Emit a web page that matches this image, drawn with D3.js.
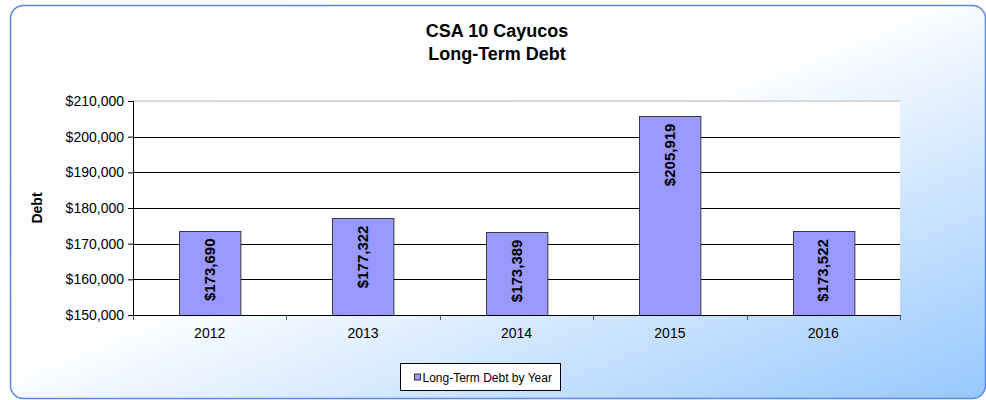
<!DOCTYPE html>
<html>
<head>
<meta charset="utf-8">
<script src="https://cdn.jsdelivr.net/npm/d3@7"></script>
<style>
  body { margin: 0; background: #fff; }
  svg text { font-family: Arial, "Liberation Sans", sans-serif; }
</style>
</head>
<body>
<div class="chart-container"></div>
<script>
// Data
const years = ["2012", "2013", "2014", "2015", "2016"];
const debtValues = [173690, 177322, 173389, 205919, 173522];
const yTicks = [150000, 160000, 170000, 180000, 190000, 200000, 210000];
const titleLines = ["CSA 10 Cayucos", "Long-Term Debt"];
const seriesName = "Long-Term Debt by Year";

document.addEventListener("DOMContentLoaded", function () {
    const width = 986;
    const height = 400;
    const margin = { top: 101, right: 86, bottom: 85, left: 133 };
    const plotW = width - margin.left - margin.right;
    const plotH = height - margin.top - margin.bottom;

    const svg = d3.select(".chart-container")
        .append("svg")
        .attr("width", width)
        .attr("height", height);

    // background gradient
    const defs = svg.append("defs");
    const grad = defs.append("linearGradient")
        .attr("id", "bg-grad")
        .attr("x1", 0).attr("y1", 0)
        .attr("x2", 1).attr("y2", 1);
    grad.append("stop").attr("offset", "0%").attr("stop-color", "#ffffff");
    grad.append("stop").attr("offset", "48%").attr("stop-color", "#fbfdff");
    grad.append("stop").attr("offset", "100%").attr("stop-color", "#96c8fe");

    svg.append("rect")
        .attr("x", 10.5).attr("y", 5.5)
        .attr("width", 975).attr("height", 393)
        .attr("rx", 13)
        .attr("fill", "url(#bg-grad)")
        .attr("stroke", "#5a86f0")
        .attr("stroke-width", 1.5);

    // title
    svg.append("g")
        .selectAll("text")
        .data(titleLines)
        .enter()
        .append("text")
        .attr("x", 497)
        .attr("y", (d, i) => 37 + i * 23)
        .attr("text-anchor", "middle")
        .attr("font-size", 18)
        .attr("font-weight", "bold")
        .text(d => d);

    const x = d3.scaleBand()
        .domain(years)
        .range([0, plotW])
        .paddingInner(0.6)
        .paddingOuter(0.3);

    const y = d3.scaleLinear()
        .domain([150000, 210000])
        .range([plotH, 0]);

    const plot = svg.append("g")
        .attr("transform", `translate(${margin.left},${margin.top})`);

    plot.append("rect")
        .attr("width", plotW)
        .attr("height", plotH)
        .attr("fill", "#ffffff");

    // top border of plot area
    plot.append("line")
        .attr("x1", 0).attr("x2", plotW)
        .attr("y1", 0).attr("y2", 0)
        .attr("stroke", "#d8d8d8")
        .attr("stroke-width", 2);

    // gridlines
    plot.selectAll(".grid")
        .data(yTicks.filter(t => t > 150000 && t < 210000))
        .enter()
        .append("line")
        .attr("class", "grid")
        .attr("x1", 0).attr("x2", plotW)
        .attr("y1", d => Math.round(y(d)) + 0.5)
        .attr("y2", d => Math.round(y(d)) + 0.5)
        .attr("stroke", "#000")
        .attr("stroke-width", 1);

    // bars
    plot.selectAll(".bar")
        .data(debtValues)
        .enter()
        .append("rect")
        .attr("class", "bar")
        .attr("x", (d, i) => Math.round(x(years[i])) + 0.5)
        .attr("y", d => Math.round(y(d)) + 0.5)
        .attr("width", x.bandwidth())
        .attr("height", d => plotH - Math.round(y(d)))
        .attr("fill", "#9999ff")
        .attr("stroke", "#3a3a3a")
        .attr("stroke-width", 1);

    // value labels
    plot.selectAll(".value-label")
        .data(debtValues)
        .enter()
        .append("text")
        .attr("class", "value-label")
        .attr("transform", (d, i) => `translate(${x(years[i]) + x.bandwidth() / 2 + 5},${y(d) + 8}) rotate(-90)`)
        .attr("text-anchor", "end")
        .attr("font-size", 15)
        .attr("font-weight", "bold")
        .text(d => "$" + d3.format(",")(d));

    // y axis
    const yAxis = plot.append("g")
        .call(d3.axisLeft(y)
            .tickValues(yTicks)
            .tickSize(5)
            .tickFormat(d => "$" + d3.format(",")(d)));
    yAxis.select(".domain").attr("stroke", "#000");
    yAxis.selectAll(".tick line").attr("stroke", "#000");
    yAxis.selectAll(".tick text")
        .attr("font-size", 14)
        .attr("font-family", "Arial, 'Liberation Sans', sans-serif")
        .attr("fill", "#000")
        .attr("x", -9);

    // x axis
    const boundaries = d3.range(years.length + 1).map(i => i * plotW / years.length);
    const xAxis = plot.append("g")
        .attr("transform", `translate(0,${plotH})`);
    xAxis.append("line")
        .attr("x1", 0).attr("x2", plotW)
        .attr("y1", 0.5).attr("y2", 0.5)
        .attr("stroke", "#000");
    xAxis.selectAll(".xtick")
        .data(boundaries)
        .enter()
        .append("line")
        .attr("class", "xtick")
        .attr("x1", d => Math.round(d) + 0.5)
        .attr("x2", d => Math.round(d) + 0.5)
        .attr("y1", 0).attr("y2", 5)
        .attr("stroke", "#555");
    xAxis.selectAll(".xlabel")
        .data(years)
        .enter()
        .append("text")
        .attr("class", "xlabel")
        .attr("x", d => x(d) + x.bandwidth() / 2)
        .attr("y", 23)
        .attr("text-anchor", "middle")
        .attr("font-size", 14)
        .text(d => d);

    // y axis title
    svg.append("text")
        .attr("transform", `translate(42,${margin.top + plotH / 2}) rotate(-90)`)
        .attr("text-anchor", "middle")
        .attr("font-size", 14)
        .attr("font-weight", "bold")
        .text("Debt");

    // legend
    const legend = svg.append("g")
        .attr("transform", "translate(400.5,363.5)");
    legend.append("rect")
        .attr("width", 160)
        .attr("height", 27)
        .attr("fill", "#fff")
        .attr("stroke", "#000");
    legend.append("rect")
        .attr("x", 14).attr("y", 10.5)
        .attr("width", 6).attr("height", 6)
        .attr("fill", "#9999ff")
        .attr("stroke", "#333");
    legend.append("text")
        .attr("x", 22)
        .attr("y", 18)
        .attr("font-size", 12)
        .text(seriesName);
});
</script>
</body>
</html>
